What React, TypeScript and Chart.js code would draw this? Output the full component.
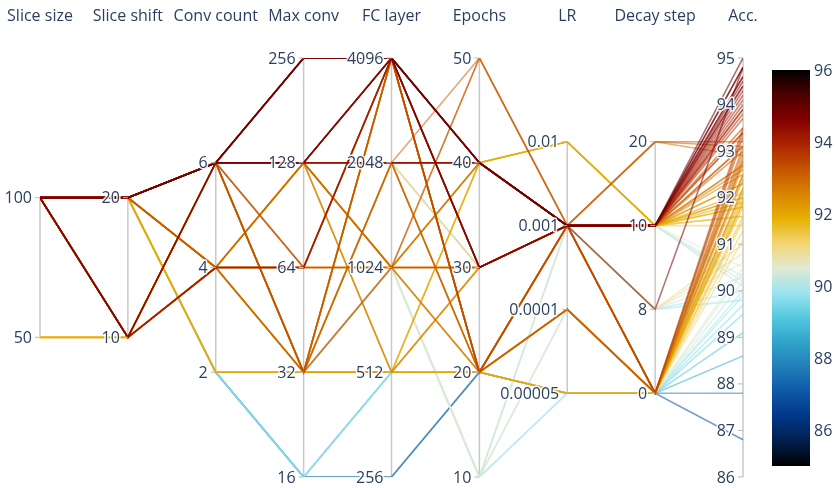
import React, { useEffect, useRef } from "react";
import { Chart, registerables } from "chart.js";

Chart.register(...registerables);

// Dimension titles
const dimensions = ["Slice size", "Slice shift", "Conv count", "Max conv", "FC layer", "Epochs", "LR", "Decay step", "Acc."];

// Base configuration paths (one entry per path)
const sliceSize = [100, 100, 100, 100, 100, 100, 100, 100, 100, 100, 100, 100, 100, 50, 100, 100, 100, 100, 100, 100, 100, 100, 50];
const sliceShift = [20, 10, 20, 10, 20, 10, 20, 20, 10, 20, 20, 20, 20, 10, 20, 10, 20, 20, 20, 20, 20, 20, 10];
const convCount = [6, 6, 6, 4, 6, 6, 6, 6, 4, 6, 4, 4, 2, 4, 6, 6, 4, 6, 2, 2, 2, 2, 6];
const maxConv = [256, 128, 128, 64, 128, 32, 32, 128, 64, 64, 32, 128, 32, 32, 32, 128, 128, 32, 32, 16, 32, 16, 128];
const fcLayer = [4096, 4096, 2048, 4096, 4096, 2048, 1024, 2048, 1024, 4096, 2048, 1024, 512, 512, 4096, 512, 1024, 1024, 1024, 512, 1024, 256, 2048];
const epochs = [40, 30, 40, 30, 40, 30, 50, 50, 30, 20, 20, 20, 20, 40, 20, 30, 40, 10, 10, 20, 10, 20, 40];
const learningRate = [0.001, 0.001, 0.001, 0.001, 0.001, 0.001, 0.001, 0.001, 0.001, 0.001, 0.0001, 0.0001, 0.00005, 0.01, 0.001, 0.001, 0.001, 0.001, 0.0001, 0.00005, 0.00005, 0.00005, 0.01];
const decayStep = [10, 10, 10, 10, 8, 8, 20, 20, 10, 0, 0, 0, 0, 10, 0, 10, 10, 10, 0, 0, 0, 0, 10];
// Accuracy of each run, grouped by path
const accuracy = [
  [95.0, 94.8, 94.6, 94.5, 94.3, 94.1, 93.9],
  [94.8, 94.4, 94.0, 93.7],
  [94.6, 94.2, 93.8, 93.4, 93.1, 92.7],
  [94.4, 93.9, 93.5],
  [94.8],
  [91.0, 90.8, 90.6, 90.3, 90.0, 89.8],
  [93.2, 92.9],
  [93.1],
  [93.4, 93.0, 92.6, 92.3, 92.0],
  [93.5, 93.0, 92.7],
  [93.3, 92.8, 92.4, 92.1],
  [92.9, 92.5, 91.9],
  [92.2, 92.0, 91.8, 91.5, 91.3, 91.1],
  [92.1, 91.8, 91.6],
  [93.4, 93.1, 92.8, 92.5, 92.2, 91.9, 91.6],
  [92.7, 92.3, 91.9],
  [93.1, 92.5, 92.0, 91.6],
  [90.5, 90.3, 90.2, 90.1],
  [90.5, 90.4, 90.2],
  [89.9, 89.5, 89.1, 88.6],
  [90.0, 89.7],
  [87.8, 86.8],
  [91.8, 91.4],
];

// Axis tick values
const sliceSizeTicks = [50, 100];
const sliceShiftTicks = [10, 20];
const convCountTicks = [2, 4, 6];
const maxConvTicks = [16, 32, 64, 128, 256];
const fcLayerTicks = [256, 512, 1024, 2048, 4096];
const epochTicks = [10, 20, 30, 40, 50];
const lrTicks = [0.00005, 0.0001, 0.001, 0.01];
const lrTickLabels = ["0.00005", "0.0001", "0.001", "0.01"];
const decayTicks = [0, 8, 10, 20];
const accTicks = [86, 87, 88, 89, 90, 91, 92, 93, 94, 95];
const colorbarTicks = [86, 88, 90, 92, 94, 96];
const colorMin = 85;
const colorMax = 96;

const ICEFIRE: [number, string][] = [
  [0, "#000000"], [0.0625, "#001f4d"], [0.125, "#003786"], [0.1875, "#0e58a8"],
  [0.25, "#217eb8"], [0.3125, "#30a4ca"], [0.375, "#54c8df"], [0.4375, "#9be4ef"],
  [0.5, "#e1e9d1"], [0.5625, "#f3d573"], [0.625, "#e7b000"], [0.6875, "#da8200"],
  [0.75, "#c65400"], [0.8125, "#ac2301"], [0.875, "#820000"], [0.9375, "#4c0000"], [1, "#000000"],
];

function hexRgb(h: string) {
  return [parseInt(h.slice(1, 3), 16), parseInt(h.slice(3, 5), 16), parseInt(h.slice(5, 7), 16)];
}

function icefire(t: number, alpha = 1) {
  t = Math.max(0, Math.min(1, t));
  for (let i = 1; i < ICEFIRE.length; i++) {
    if (t <= ICEFIRE[i][0]) {
      const [t0, c0] = ICEFIRE[i - 1];
      const [t1, c1] = ICEFIRE[i];
      const f = (t - t0) / (t1 - t0);
      const a = hexRgb(c0), b = hexRgb(c1);
      const r = Math.round(a[0] + (b[0] - a[0]) * f);
      const g = Math.round(a[1] + (b[1] - a[1]) * f);
      const bl = Math.round(a[2] + (b[2] - a[2]) * f);
      return `rgba(${r},${g},${bl},${alpha})`;
    }
  }
  return `rgba(0,0,0,${alpha})`;
}

const ordinal = (ticks: number[]) => (v: number) => (ticks.indexOf(v) + 1) / (ticks.length + 1);
const logScale = (lo: number, hi: number) => (v: number) => (Math.log2(v) - Math.log2(lo)) / (Math.log2(hi) - Math.log2(lo));
const linScale = (lo: number, hi: number) => (v: number) => (v - lo) / (hi - lo);

const norms = [
  ordinal(sliceSizeTicks),
  ordinal(sliceShiftTicks),
  ordinal(convCountTicks),
  logScale(16, 256),
  logScale(256, 4096),
  linScale(10, 50),
  ordinal(lrTicks),
  ordinal(decayTicks),
  linScale(86, 95),
];

const axisTicks: { values: number[]; labels: string[] }[] = [
  { values: sliceSizeTicks, labels: sliceSizeTicks.map(String) },
  { values: sliceShiftTicks, labels: sliceShiftTicks.map(String) },
  { values: convCountTicks, labels: convCountTicks.map(String) },
  { values: maxConvTicks, labels: maxConvTicks.map(String) },
  { values: fcLayerTicks, labels: fcLayerTicks.map(String) },
  { values: epochTicks, labels: epochTicks.map(String) },
  { values: lrTicks, labels: lrTickLabels },
  { values: decayTicks, labels: decayTicks.map(String) },
  { values: accTicks, labels: accTicks.map(String) },
];

const FONT = "'Open Sans', 'DejaVu Sans', sans-serif";
const TEXT = "#2a3f5f";

const parcoordsPlugin = {
  id: "parcoords",
  beforeDatasetsDraw(chart: any) {
    const { ctx, scales } = chart;
    ctx.save();
    ctx.strokeStyle = "#c8c8c8";
    ctx.lineWidth = 1.5;
    axisTicks.forEach((ax, i) => {
      const x = scales.x.getPixelForValue(i);
      const ys = ax.values.map((v) => scales.y.getPixelForValue(norms[i](v)));
      ctx.beginPath();
      ctx.moveTo(x, Math.min(...ys));
      ctx.lineTo(x, Math.max(...ys));
      ctx.stroke();
    });
    ctx.restore();
  },
  afterDatasetsDraw(chart: any) {
    const { ctx, scales } = chart;
    ctx.save();
    // titles
    ctx.font = `16px ${FONT}`;
    ctx.fillStyle = TEXT;
    ctx.textAlign = "center";
    ctx.textBaseline = "middle";
    dimensions.forEach((d, i) => {
      ctx.fillText(d, scales.x.getPixelForValue(i), 16);
    });
    // ticks
    ctx.font = `16px ${FONT}`;
    ctx.textAlign = "right";
    axisTicks.forEach((ax, i) => {
      const x = scales.x.getPixelForValue(i);
      ax.values.forEach((v, k) => {
        const y = scales.y.getPixelForValue(norms[i](v));
        ctx.strokeStyle = "#b8b8b8";
        ctx.lineWidth = 1;
        ctx.beginPath();
        ctx.moveTo(x - 5, y);
        ctx.lineTo(x, y);
        ctx.stroke();
        ctx.lineWidth = 3;
        ctx.strokeStyle = "rgba(255,255,255,0.9)";
        ctx.lineJoin = "round";
        ctx.strokeText(ax.labels[k], x - 8, y + 1);
        ctx.fillStyle = TEXT;
        ctx.fillText(ax.labels[k], x - 8, y + 1);
      });
    });
    // colorbar
    const cx0 = 772, cx1 = 810, cy0 = 70, cy1 = 466;
    const grad = ctx.createLinearGradient(0, cy1, 0, cy0);
    ICEFIRE.forEach(([t, c]) => grad.addColorStop(t, c));
    ctx.fillStyle = grad;
    ctx.fillRect(cx0, cy0, cx1 - cx0, cy1 - cy0);
    ctx.fillStyle = TEXT;
    ctx.textAlign = "left";
    ctx.font = `16px ${FONT}`;
    colorbarTicks.forEach((v) => {
      const y = cy1 - ((v - colorMin) / (colorMax - colorMin)) * (cy1 - cy0);
      ctx.fillText(String(v), cx1 + 4, y + 1);
    });
    ctx.restore();
  },
};

type Row = { vals: number[]; acc: number };

function buildRows(): Row[] {
  const rows: Row[] = [];
  accuracy.forEach((accs, p) => {
    accs.forEach((a) => {
      rows.push({
        vals: [sliceSize[p], sliceShift[p], convCount[p], maxConv[p], fcLayer[p], epochs[p], learningRate[p], decayStep[p], a],
        acc: a,
      });
    });
  });
  // Chart.js draws dataset 0 last (on top): put highest accuracy first
  rows.sort((r1, r2) => r2.acc - r1.acc);
  return rows;
}

export default function App() {
  const ref = useRef<HTMLCanvasElement>(null);
  useEffect(() => {
    document.body.style.margin = "0";
    const rows = buildRows();
    const datasets = rows.map((r) => ({
      data: r.vals.map((v, i) => ({ x: i, y: norms[i](v) })),
      borderColor: icefire((r.acc - colorMin) / (colorMax - colorMin), 0.55),
      borderWidth: 1.6,
      pointRadius: 0,
      tension: 0,
      fill: false,
    }));
    const chart = new Chart(ref.current!, {
      type: "line",
      data: { datasets },
      options: {
        animation: false,
        responsive: false,
        layout: { padding: { left: 40, right: 95, top: 58, bottom: 11 } },
        plugins: { legend: { display: false }, tooltip: { enabled: false } },
        scales: {
          x: { type: "linear", min: 0, max: 8, display: false },
          y: { type: "linear", min: 0, max: 1, display: false },
        },
      },
      plugins: [parcoordsPlugin],
    });
    return () => chart.destroy();
  }, []);
  return (
    <div style={{ width: 838, height: 488 }}>
      <canvas ref={ref} width={838} height={488} />
    </div>
  );
}
